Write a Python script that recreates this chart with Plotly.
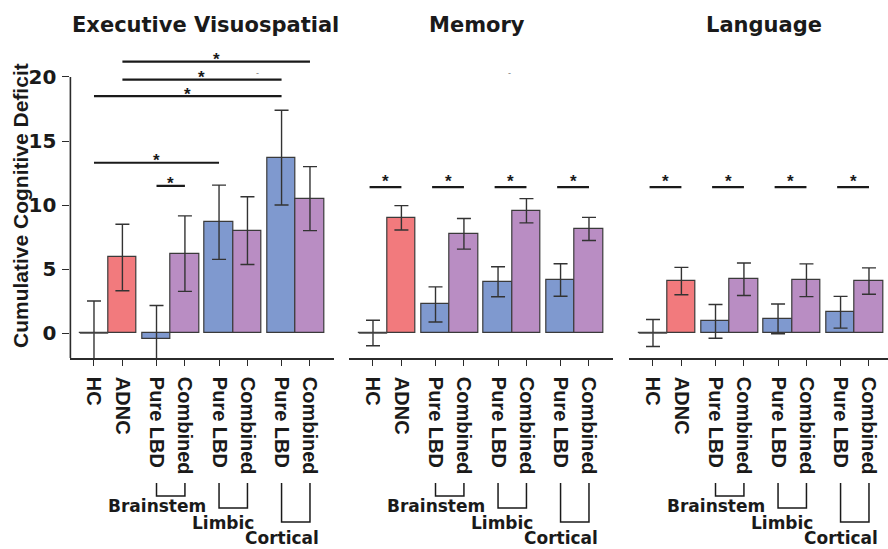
import plotly.graph_objects as go

# ---------------- data ----------------
panel_titles = ["Executive Visuospatial", "Memory", "Language"]
categories = ["HC", "ADNC", "Pure LBD", "Combined", "Pure LBD", "Combined", "Pure LBD", "Combined"]
bar_types = ["HC", "ADNC", "Pure", "Combined", "Pure", "Combined", "Pure", "Combined"]
group_labels = ["Brainstem", "Limbic", "Cortical"]
group_members = [(2, 3), (4, 5), (6, 7)]

exec_mean = [0.0, 5.9, -0.5, 6.2, 8.65, 8.0, 13.7, 10.5]
exec_err = [2.5, 2.6, 2.65, 2.95, 2.9, 2.65, 3.7, 2.5]
mem_mean = [0.0, 9.0, 2.23, 7.75, 4.0, 9.55, 4.14, 8.13]
mem_err = [1.0, 0.95, 1.37, 1.2, 1.17, 0.95, 1.27, 0.9]
lang_mean = [0.0, 4.06, 0.91, 4.2, 1.1, 4.12, 1.62, 4.06]
lang_err = [1.05, 1.07, 1.32, 1.27, 1.16, 1.28, 1.24, 1.03]

# significance brackets: (bar index a, bar index b, height)
exec_sig = [(1, 7, 21.2), (1, 6, 19.8), (0, 6, 18.5), (0, 4, 13.3), (2, 3, 11.5)]
mem_sig = [(0, 1, 11.4), (2, 3, 11.4), (4, 5, 11.4), (6, 7, 11.4)]
lang_sig = [(0, 1, 11.4), (2, 3, 11.4), (4, 5, 11.4), (6, 7, 11.4)]

y_ticks = [0, 5, 10, 15, 20]

means = [exec_mean, mem_mean, lang_mean]
errs = [exec_err, mem_err, lang_err]
sigs = [exec_sig, mem_sig, lang_sig]

# ---------------- style / layout ----------------
W, H = 888, 549
positions = [0, 1, 2.2, 3.2, 4.4, 5.4, 6.6, 7.6]
colors = {"HC": "rgba(0,0,0,0)", "ADNC": "#F27A7D", "Pure": "#7F99CF", "Combined": "#B98DC3"}
PX_PER_UNIT = 28.42
left_px = [70.4, 349.4, 629.4]
XMIN = -0.83
YMIN, YMAX = -1.953, 22.89
ybot_px, ytop_px = 358, 40
dark = "#2b2b2b"
FB = "DejaVu Sans"
FA = "Liberation Sans"


def py(p):
    return (H - p) / H


fig = go.Figure()
star_shift = [2, 6, 6]

for k in range(3):
    xa = "x" if k == 0 else f"x{k+1}"
    ya = "y" if k == 0 else f"y{k+1}"
    right_px = min(left_px[k] + PX_PER_UNIT * (8.46 - XMIN), W)
    xmax = XMIN + (right_px - left_px[k]) / PX_PER_UNIT
    axkey = "xaxis" if k == 0 else f"xaxis{k+1}"
    aykey = "yaxis" if k == 0 else f"yaxis{k+1}"

    fig.add_trace(go.Bar(
        x=positions, y=means[k], width=1.0,
        marker=dict(color=[colors[t] for t in bar_types],
                    line=dict(color="#3a3a3a", width=1.2)),
        error_y=dict(type="data", array=errs[k], visible=True,
                     color="#333333", thickness=1.4, width=7),
        xaxis=xa, yaxis=ya, showlegend=False, hoverinfo="skip",
    ))
    # HC flat bar (zero-height) drawn as a line at its value
    hc = positions[0]
    fig.add_trace(go.Scatter(
        x=[hc - 0.5, hc + 0.5], y=[means[k][0], means[k][0]], mode="lines",
        line=dict(color="#444444", width=1.5), xaxis=xa, yaxis=ya,
        showlegend=False, hoverinfo="skip",
    ))

    fig.layout[axkey] = dict(
        domain=[left_px[k] / W, right_px / W], range=[XMIN, xmax],
        anchor=ya, tickmode="array", tickvals=positions, ticktext=categories,
        tickangle=90, ticks="outside", ticklen=6, tickwidth=1.4, tickcolor=dark,
        ticklabelstandoff=7,
        showline=True, linecolor=dark, linewidth=1.6, showgrid=False, zeroline=False,
        tickfont=dict(family=FA, size=20, color="#1a1a1a", weight="bold"),
        automargin=False, fixedrange=True,
    )
    fig.layout[aykey] = dict(
        domain=[py(ybot_px), py(ytop_px)], range=[YMIN, YMAX], anchor=xa,
        showgrid=False, zeroline=False, showline=False,
        tickmode="array", tickvals=y_ticks if k == 0 else [],
        ticktext=[str(v) for v in y_ticks] if k == 0 else [],
        ticks="outside" if k == 0 else "", ticklen=7, tickwidth=1.4, tickcolor=dark,
        ticklabelstandoff=2,
        tickfont=dict(family=FB, size=20, color="#1a1a1a", weight="bold"),
        showticklabels=(k == 0), automargin=False, fixedrange=True,
    )
    if k == 0:
        # y axis line running from the lowest visible value up to the top tick
        fig.add_shape(type="line", xref="x domain", yref="y", x0=0, x1=0,
                      y0=YMIN, y1=y_ticks[-1], line=dict(color=dark, width=1.6))

    # significance brackets
    for (a, b, h) in sigs[k]:
        x0 = positions[a] - (0.0 if k == 0 else 0.12)
        x1 = positions[b]
        fig.add_shape(type="line", xref=xa, yref=ya, x0=x0, x1=x1, y0=h, y1=h,
                      line=dict(color="#1a1a1a", width=2.2))
        fig.add_annotation(x=(x0 + x1) / 2, y=h, xref=xa, yref=ya, text="*",
                           showarrow=False, yanchor="middle", xanchor="center",
                           yshift=star_shift[k],
                           font=dict(family=FA, size=17, color="#1a1a1a", weight="bold"))

    # group brackets under the tick labels
    bot_px = [496, 508, 522]
    txt_px = [506, 523, 538]
    txt_shift = [0, 4, 0]
    for g, (a, b) in enumerate(group_members):
        xa0, xa1 = positions[a], positions[b]
        yt, yb = py(483), py(bot_px[g])
        fig.add_shape(type="path", xref=xa, yref="paper",
                      path=f"M {xa0},{yt} L {xa0},{yb} L {xa1},{yb} L {xa1},{yt}",
                      line=dict(color="#1a1a1a", width=1.5))
        fig.add_annotation(x=xa0, y=py(txt_px[g]), xref=xa, yref="paper",
                           text=group_labels[g], showarrow=False, xshift=txt_shift[g],
                           yanchor="middle", xanchor="center",
                           font=dict(family=FB, size=17, color="#1a1a1a", weight="bold"))

    # panel title
    title_cx = [205, 476.5, 764][k]
    fig.add_annotation(x=title_cx / W, y=py(25), xref="paper", yref="paper",
                       text=panel_titles[k], showarrow=False, yanchor="middle",
                       xanchor="center",
                       font=dict(family=FB, size=21, color="#1a1a1a", weight="bold"))

# faint stray dashes visible in the source figure
fig.add_annotation(x=5.74, y=20.3, xref="x", yref="y", text="-", showarrow=False,
                   xanchor="center", font=dict(family=FA, size=9, color="#777777"))
fig.add_annotation(x=4.82, y=20.3, xref="x2", yref="y2", text="-", showarrow=False,
                   xanchor="center", font=dict(family=FA, size=9, color="#777777"))

# y-axis title
fig.add_annotation(x=20 / W, y=py(206), xref="paper", yref="paper",
                   text="Cumulative Cognitive Deficit", textangle=-90, showarrow=False,
                   xanchor="center", yanchor="middle",
                   font=dict(family=FA, size=21, color="#1a1a1a", weight="bold"))

fig.update_layout(
    width=W, height=H, margin=dict(l=0, r=0, t=0, b=0),
    paper_bgcolor="white", plot_bgcolor="white", bargap=0, showlegend=False,
)

fig.write_html("out.html", config={"displayModeBar": False},
               post_script="document.body.style.margin='0';document.body.style.padding='0';")
